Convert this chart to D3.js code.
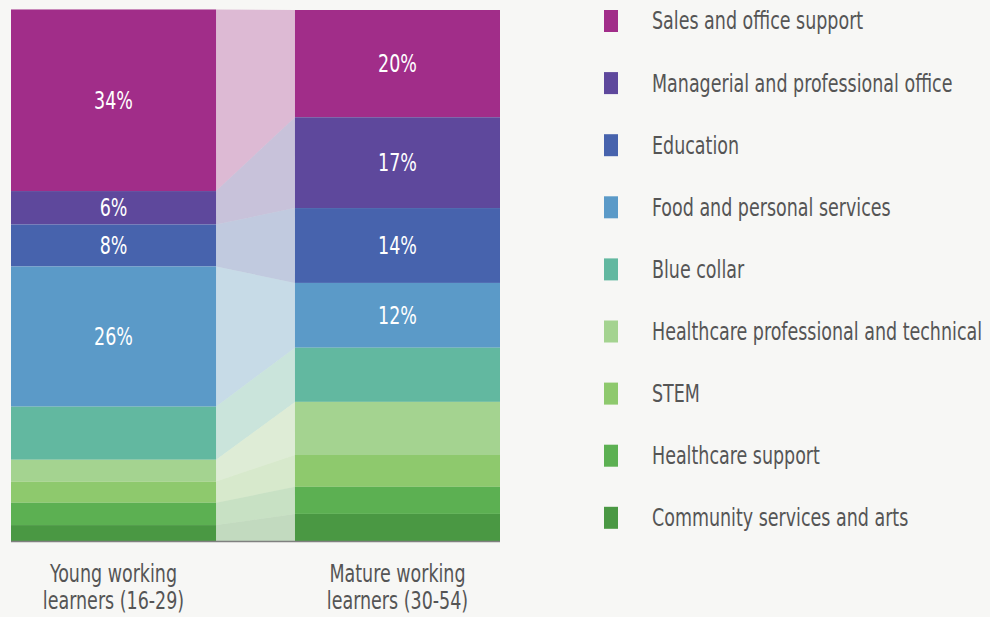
<!DOCTYPE html>
<html>
<head>
<meta charset="utf-8">
<script src="https://cdn.jsdelivr.net/npm/d3@7"></script>
<style>
  body { margin: 0; background: #f7f7f5; }
  svg { display: block; font-family: "Liberation Sans Narrow", "DejaVu Sans Condensed", sans-serif; }
</style>
</head>
<body>
<svg width="990" height="617"></svg>
<script>
// occupations, top of the stack first
let categories = [
    "Sales and office support",
    "Managerial and professional office",
    "Education",
    "Food and personal services",
    "Blue collar",
    "Healthcare professional and technical",
    "STEM",
    "Healthcare support",
    "Community services and arts"
];
let colors = ["#a12d89", "#5e489c", "#4763ad", "#5b9ac8", "#62b8a0", "#a4d390", "#8ec96d", "#5cb052", "#4a9843"];

let groups = ["young", "mature"];
let groupLines = [["Young working", "learners (16-29)"], ["Mature working", "learners (30-54)"]];

// share of each group, %
let young = [34.2, 6.3, 7.9, 26.4, 10, 4.1, 4, 4.2, 3];
let mature = [20.2, 17.1, 14.1, 12.2, 10.2, 10, 6, 5.1, 5.1];

// only the first four occupations get a label
let labelled = categories.slice(0, 4);

let svg = d3.select("svg");

// the condensed face is still a bit wide, squeeze it horizontally
let squeeze = 0.81;

let rows = categories.map((c, i) => ({ cat: c, young: young[i], mature: mature[i] }));

// stack from the bottom up so the first category sits on top
function stackGroup(key) {
    let out = {};
    let acc = 0;
    for (let i = categories.length - 1; i >= 0; i--) {
        out[categories[i]] = [acc, acc + rows[i][key]];
        acc += rows[i][key];
    }
    return out;
}
let stacks = { young: stackGroup("young"), mature: stackGroup("mature") };

// two bars with a gap in between
let x = d3.scaleBand().domain(groups).range([11, 500]).paddingInner(0.278).paddingOuter(0);
let barW = x.bandwidth();

let y = d3.scaleLinear().domain([0, 100]).range([541, 10]);
let color = d3.scaleOrdinal().domain(categories).range(colors);

// connecting bands
let band = svg.append("g").attr("class", "bands");
categories.forEach((c) => {
    let l = stacks.young[c], r = stacks.mature[c];
    let x0 = x("young") + barW, x1 = x("mature");
    band.append("path")
        .attr("d", `M${x0},${y(l[1])}L${x1},${y(r[1])}L${x1},${y(r[0])}L${x0},${y(l[0])}Z`)
        .attr("fill", color(c))
        .attr("fill-opacity", 0.3);
});

// bars
groups.forEach((key) => {
    let g = svg.append("g").attr("class", "bar-" + key);
    g.selectAll("rect")
        .data(categories)
        .enter()
        .append("rect")
        .attr("x", x(key))
        .attr("width", barW)
        .attr("y", (c) => y(stacks[key][c][1]))
        .attr("height", (c) => y(stacks[key][c][0]) - y(stacks[key][c][1]))
        .attr("fill", (c) => color(c));

    g.selectAll("text")
        .data(labelled)
        .enter()
        .append("text")
        .attr("transform", (c) => `translate(${x(key) + barW / 2},${(y(stacks[key][c][0]) + y(stacks[key][c][1])) / 2}) scale(${squeeze},1)`)
        .attr("dy", "0.36em")
        .attr("text-anchor", "middle")
        .attr("fill", "#fff")
        .attr("font-size", 24)
        .text((c) => Math.round(stacks[key][c][1] - stacks[key][c][0]) + "%");
});

// baseline
svg.append("line")
    .attr("x1", 11).attr("x2", 500)
    .attr("y1", 541.5).attr("y2", 541.5)
    .attr("stroke", "#808080")
    .attr("stroke-width", 1.5);

// group labels
groups.forEach((key, i) => {
    let t = svg.append("text")
        .attr("transform", `translate(${x(key) + barW / 2},0) scale(${squeeze},1)`)
        .attr("text-anchor", "middle")
        .attr("fill", "#555")
        .attr("font-size", 24);
    groupLines[i].forEach((line, j) => {
        t.append("tspan")
            .attr("x", 0)
            .attr("y", 582 + j * 27)
            .text(line);
    });
});

// legend
let legend = svg.append("g").attr("class", "legend")
    .selectAll("g")
    .data(categories)
    .enter()
    .append("g")
    .attr("transform", (c, i) => `translate(604, ${10 + i * 62.1})`);

legend.append("rect")
    .attr("width", 14)
    .attr("height", 22)
    .attr("fill", (c) => color(c));

legend.append("text")
    .attr("transform", `translate(48,11) scale(${squeeze},1)`)
    .attr("dy", "0.35em")
    .attr("fill", "#555")
    .attr("font-size", 24)
    .text((c) => c);
</script>
</body>
</html>
